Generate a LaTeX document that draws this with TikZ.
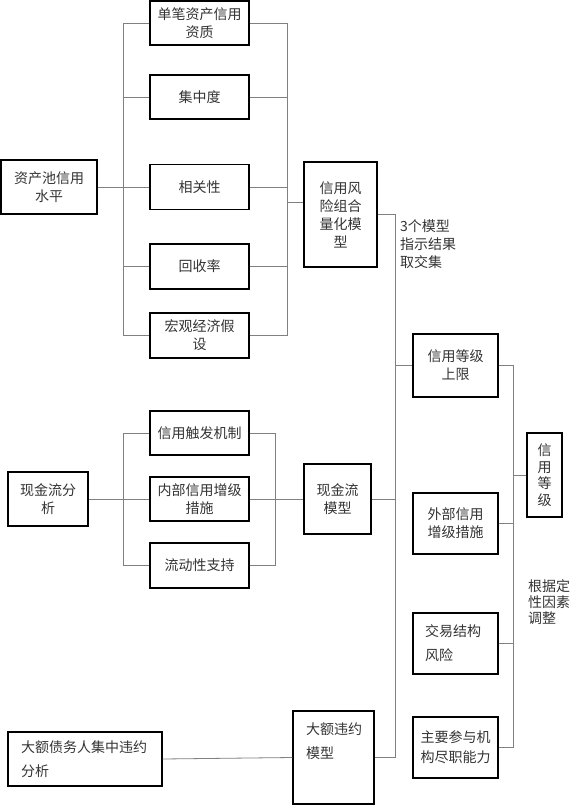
\documentclass[tikz,border=0pt]{standalone}
\usepackage{fontspec}
\setmainfont{Noto Sans CJK SC}

\begin{document}
\begin{tikzpicture}[x=1pt, y=-1pt,
    box/.style={draw=black, line width=1.1pt, inner sep=0pt, align=center, text=black!80, font=\fontsize{14}{18}\selectfont},
    link/.style={draw=black!50, line width=0.8pt},
    note/.style={inner sep=0pt, align=left, text=black!80, font=\fontsize{14}{16.5}\selectfont}]
    \useasboundingbox (0, 0) rectangle (573, 805);

    \node[box, minimum width=96, minimum height=54] (pool) at (49, 187) {资产池信用\\水平};
    \node[box, minimum width=99, minimum height=44] (q1) at (199.5, 23) {单笔资产信用\\资质};
    \node[box, minimum width=99, minimum height=44] (q2) at (199.5, 97) {集中度};
    \node[box, minimum width=99, minimum height=45] (q3) at (199.5, 187) {相关性};
    \node[box, minimum width=99, minimum height=45] (q4) at (199.5, 266.5) {回收率};
    \node[box, minimum width=99, minimum height=45] (q5) at (199.5, 335.5) {宏观经济假\\设};
    \node[box, minimum width=73, minimum height=105] (risk) at (340.5, 214.5) {信用风\\险组合\\量化模\\型};

    \node[box, minimum width=80, minimum height=54] (cfa) at (48, 499) {现金流分\\析};
    \node[box, minimum width=99, minimum height=44] (c1) at (199.5, 433) {信用触发机制};
    \node[box, minimum width=99, minimum height=44] (c2) at (199.5, 499) {内部信用增级\\措施};
    \node[box, minimum width=99, minimum height=45] (c3) at (199.5, 565.5) {流动性支持};
    \node[box, minimum width=67, minimum height=70] (cfm) at (337.5, 499) {现金流\\模型};

    \node[box, minimum width=154, minimum height=54, text width=128, align=left] (big) at (85, 759) {大额债务人集中违约\\[6pt]分析};
    \node[box, minimum width=81, minimum height=93] (dm) at (333.5, 757.5) {};
    \node[note, text width=56, font=\fontsize{14}{18}\selectfont] (dmt) at (334, 741) {大额违约\\[6pt]模型};

    \node[box, minimum width=85, minimum height=63] (up) at (455.5, 365.5) {信用等级\\上限};
    \node[box, minimum width=85, minimum height=61] (ext) at (455.5, 523.5) {外部信用\\增级措施};
    \node[box, minimum width=85, minimum height=61, text width=61, align=left] (tsr) at (455.5, 643.5) {交易结构\\[6pt]风险};
    \node[box, minimum width=85, minimum height=61] (prt) at (455.5, 747.5) {主要参与机\\[2pt]构尽职能力};
    \node[box, minimum width=35, minimum height=84, font=\fontsize{14}{16.5}\selectfont] (grade) at (544.5, 475) {信\\用\\等\\级};

    \node[note, anchor=west, font=\fontsize{14}{18}\selectfont] (n1) at (400, 244) {3个模型\\指示结果\\取交集};
    \node[note, anchor=west, font=\fontsize{14}{16}\selectfont] (n2) at (528, 602) {根据定\\性因素\\调整};

    \coordinate (lb) at (123, 0);
    \coordinate (rb) at (287, 0);
    \coordinate (rj) at (287, 202);
    \coordinate (clb) at (123, 0);
    \coordinate (crb) at (275, 0);
    \coordinate (mb) at (395, 0);
    \coordinate (gb) at (513, 0);

    \draw[link] (pool.east) -- (q3.west);
    \draw[link] (q1.west) -- (q1.west -| lb) -- (q5.west -| lb) -- (q5.west);
    \draw[link] (q2.west -| lb) -- (q2.west);
    \draw[link] (q4.west -| lb) -- (q4.west);
    \draw[link] (q1.east) -- (q1.east -| rb) -- (q5.east -| rb) -- (q5.east);
    \draw[link] (q2.east) -- (q2.east -| rb);
    \draw[link] (q3.east) -- (q3.east -| rb);
    \draw[link] (q4.east) -- (q4.east -| rb);
    \draw[link] (rj) -- (risk.west |- rj);

    \draw[link] (cfa.east) -- (c2.west);
    \draw[link] (c1.west) -- (c1.west -| clb) -- (c3.west -| clb) -- (c3.west);
    \draw[link] (c1.east) -- (c1.east -| crb) -- (c3.east -| crb) -- (c3.east);
    \draw[link] (c2.east) -- (cfm.west);

    \draw[link] (big.east) -- (dm.west);

    \draw[link] (risk.east) -- (risk.east -| mb) -- (dm.east -| mb) -- (dm.east);
    \draw[link] (cfm.east) -- (cfm.east -| mb);
    \draw[link] (up.west -| mb) -- (up.west);

    \draw[link] (up.east) -- (up.east -| gb) -- (prt.east -| gb) -- (prt.east);
    \draw[link] (ext.east) -- (ext.east -| gb);
    \draw[link] (tsr.east) -- (tsr.east -| gb);
    \draw[link] (grade.west -| gb) -- (grade.west);
\end{tikzpicture}
\end{document}
